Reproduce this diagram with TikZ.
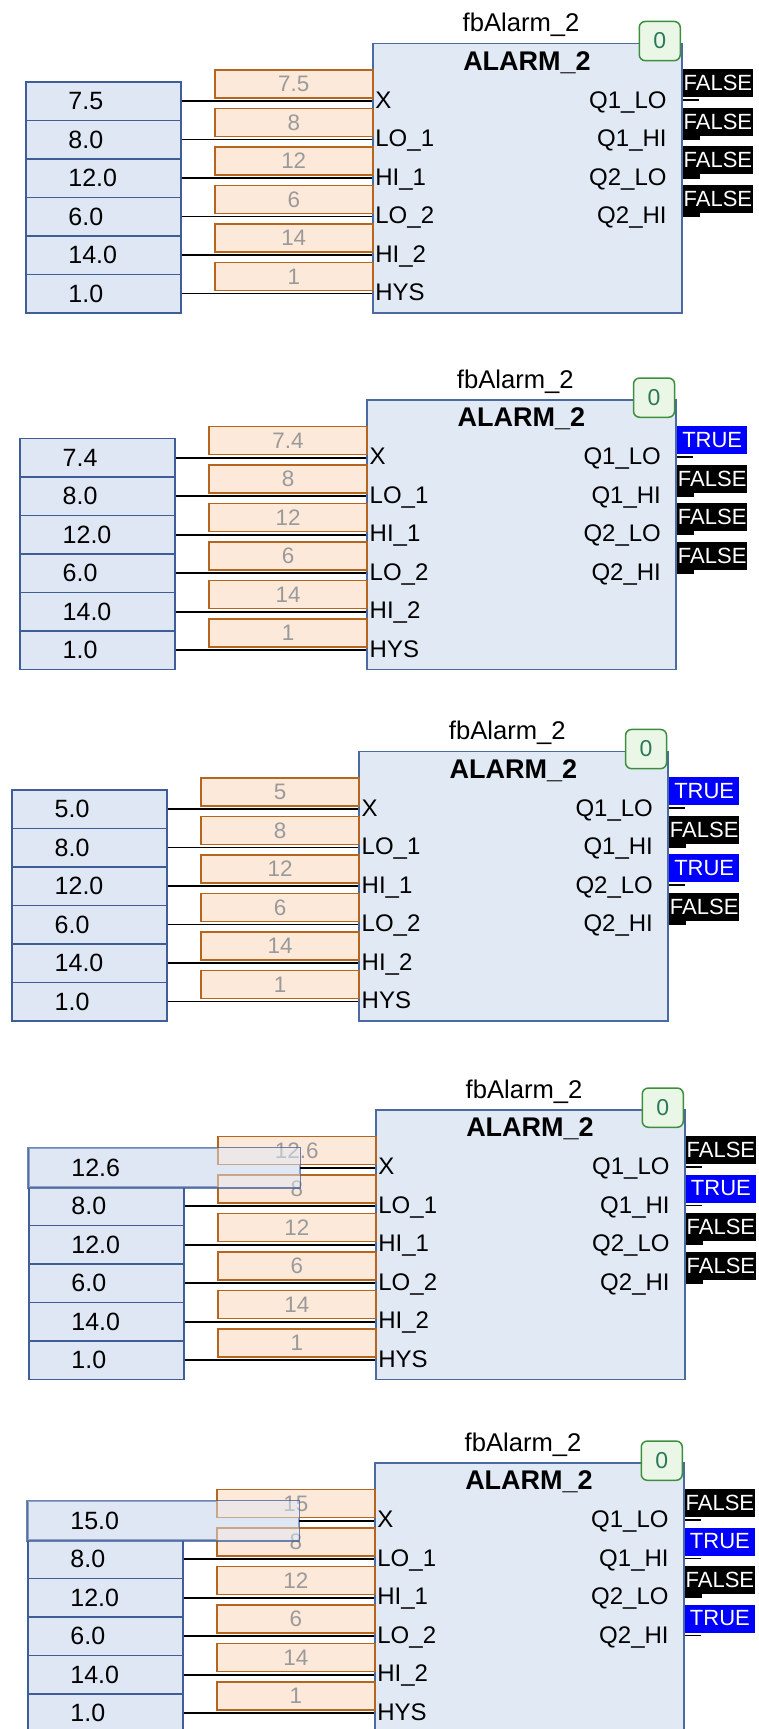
\documentclass[tikz,border=0pt]{standalone}
\usepackage{fontspec}
\setmainfont{Liberation Sans}
\definecolor{lfill}{HTML}{DFE7F5}
\definecolor{lborder}{HTML}{3F5E98}
\definecolor{blkfill}{HTML}{E1E9F5}
\definecolor{blkborder}{HTML}{4A6AA0}
\definecolor{ofill}{HTML}{FDE9DA}
\definecolor{oborder}{HTML}{B5651D}
\definecolor{ogrey}{HTML}{9A9A9A}
\definecolor{gfill}{HTML}{EAF6E6}
\definecolor{gborder}{HTML}{3D8F3D}
\definecolor{gtext}{HTML}{2A7A5A}
\definecolor{truebl}{HTML}{0000FF}
\tikzset{
  blk/.style={draw=blkborder, fill=blkfill, line width=0.75pt, minimum width=154.5pt, minimum height=134.75pt, anchor=north west, inner sep=0pt},
  lbox/.style={draw=lborder, fill=lfill, line width=0.8pt, minimum width=77.5pt, minimum height=19.25pt, anchor=north west, inner sep=0pt},
  lval/.style={anchor=base west, inner sep=0pt, font=\fontsize{12.5}{14}\selectfont},
  obox/.style={draw=oborder, fill=ofill, line width=0.75pt, minimum width=79pt, minimum height=14.15pt, anchor=north west, inner sep=0pt, text=ogrey, font=\fontsize{11.2}{12}\selectfont},
  pinin/.style={anchor=base west, inner sep=0pt, font=\fontsize{12}{13}\selectfont},
  pinout/.style={anchor=base east, inner sep=0pt, font=\fontsize{12}{13}\selectfont},
  wire/.style={line width=0.9pt, draw=black},
  fval/.style={fill=black, text=white, minimum width=35pt, minimum height=14pt, anchor=north west, inner sep=0pt, font=\fontsize{11}{12}\selectfont},
  tval/.style={fval, fill=truebl},
  cnt/.style={draw=gborder, fill=gfill, rounded corners=3pt, line width=0.75pt, minimum width=20.5pt, minimum height=19.6pt, anchor=north east, inner sep=0pt, text=gtext, font=\fontsize{11.5}{12}\selectfont},
  fbname/.style={anchor=base, inner sep=0pt, font=\fontsize{12.8}{14}\selectfont},
  fbtype/.style={anchor=base, inner sep=0pt, font=\bfseries\fontsize{13.5}{15}\selectfont},
}
% #1 id, #2 left, #3 top, #4 X value, #5 X shown value, #6 outputs, #7 wide first box
\newcommand{\AlarmBlock}[7]{%
\begin{scope}[shift={(#2,#3)}]
  \node[blk] (#1-blk) at (0,0) {};
  \node[fbname] (#1-name) at (149,-11) {fbAlarm\_2};
  \node[fbtype] (#1-type) at (155,27.3) {ALARM\_2};
  \node[cnt] (#1-cnt) at (309,-22) {0};
  % left constant boxes
  \ifnum#7=1
    \node[lbox, minimum width=135.35pt] (#1-l0) at (-347,38.3) {};
  \else
    \node[lbox] (#1-l0) at (-347,38.3) {};
  \fi
  \foreach \k in {1,...,5}
    \node[lbox] (#1-l\k) at (-347,{38.3+38.5*\k}) {};
  % shown input values
  \node[obox] (#1-o0) at (-158,26.3) {#5};
  \foreach \k/\ov in {1/8,2/12,3/6,4/14,5/1}
    \node[obox] (#1-o\k) at (-158,{26.3+38.5*\k}) {\ov};
  \ifnum#7=1
    \path[draw=lborder, draw opacity=0.75, fill=lfill, fill opacity=0.5, line width=0.8pt]
      (#1-l0.north west) rectangle (#1-l0.south east);
  \fi
  % values in left boxes
  \node[lval] (#1-lv0) at ([xshift=21.5pt,yshift=-4.25pt]#1-l0.west) {#4};
  \foreach \k/\lv in {1/8.0,2/12.0,3/6.0,4/14.0,5/1.0}
    \node[lval] (#1-lv\k) at ([xshift=21.5pt,yshift=-4.25pt]#1-l\k.west) {\lv};
  % wires
  \foreach \k in {0,...,5}
    \draw[wire] (#1-l\k.east) -- (#1-l\k.east -| #1-blk.west);
  % pins
  \foreach \k/\p in {0/X,1/LO\_1,2/HI\_1,3/LO\_2,4/HI\_2,5/HYS}
    \node[pinin] (#1-pi\k) at (3,{65.6+38.5*\k}) {\p};
  \foreach \k/\p in {0/Q1\_LO,1/Q1\_HI,2/Q2\_LO,3/Q2\_HI}
    \node[pinout] (#1-po\k) at (295,{65.6+38.5*\k}) {\p};
  % outputs
  \foreach \k/\st/\txt/\tb in {#6}{
    \coordinate (#1-q\k) at (327,{57.6+38.5*\k});
    \draw[wire] (#1-q\k -| #1-blk.east) -- (#1-q\k);
    \ifnum\tb=1 \fill[black] (311,{53+38.5*\k}) rectangle (328,{59+38.5*\k}); \fi
    \node[\st] (#1-v\k) at (310.5,{26.3+38.5*\k}) {\txt};
  }
\end{scope}}
\begin{document}
\begin{tikzpicture}[x=0.5pt,y=-0.5pt]
  \clip (0,0) rectangle (759,1729);
  \fill[white] (0,0) rectangle (759,1729);
  \AlarmBlock{a}{372}{42.7}{7.5}{7.5}{0/fval/FALSE/0,1/fval/FALSE/1,2/fval/FALSE/1,3/fval/FALSE/1}{0}
  \AlarmBlock{b}{366.3}{399.3}{7.4}{7.4}{0/tval/TRUE/0,1/fval/FALSE/1,2/fval/FALSE/1,3/fval/FALSE/1}{0}
  \AlarmBlock{c}{358.3}{750.7}{5.0}{5}{0/tval/TRUE/0,1/fval/FALSE/1,2/tval/TRUE/0,3/fval/FALSE/1}{0}
  \AlarmBlock{d}{375}{1109.3}{12.6}{12.6}{0/fval/FALSE/0,1/tval/TRUE/0,2/fval/FALSE/1,3/fval/FALSE/1}{1}
  \AlarmBlock{e}{374}{1462.3}{15.0}{15}{0/fval/FALSE/0,1/tval/TRUE/0,2/fval/FALSE/1,3/tval/TRUE/0}{1}
\end{tikzpicture}
\end{document}
